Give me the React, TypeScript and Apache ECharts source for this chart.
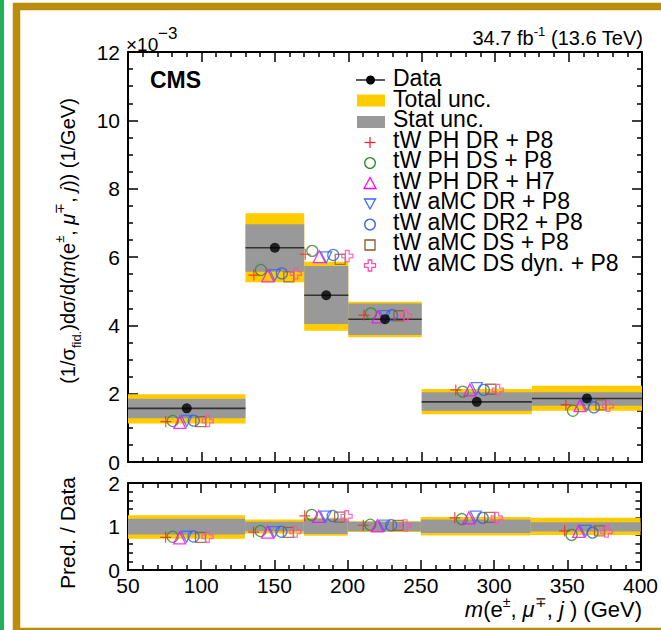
import React, { useEffect, useRef } from "react";
import * as echarts from "echarts";

// ---------------- data ----------------
const binEdges = [50, 130, 170, 200, 250, 325, 400];
const dataValues = [1.57, 6.27, 4.88, 4.18, 1.76, 1.86];
const totalLow = [1.13, 5.26, 3.84, 3.65, 1.4, 1.5];
const totalHigh = [1.98, 7.28, 5.86, 4.69, 2.14, 2.23];
const statLow = [1.28, 5.57, 4.04, 3.72, 1.5, 1.65];
const statHigh = [1.85, 6.96, 5.74, 4.64, 2.04, 2.04];

const predPhDrP8 = [1.18, 5.47, 6.08, 4.3, 2.11, 1.67];
const predPhDsP8 = [1.2, 5.62, 6.18, 4.35, 2.06, 1.5];
const predPhDrH7 = [1.16, 5.45, 6.01, 4.25, 2.11, 1.65];
const predAmcDrP8 = [1.2, 5.47, 5.99, 4.27, 2.16, 1.67];
const predAmcDr2P8 = [1.21, 5.52, 6.06, 4.3, 2.11, 1.6];
const predAmcDsP8 = [1.18, 5.42, 5.93, 4.28, 2.13, 1.67];
const predAmcDsDynP8 = [1.2, 5.52, 6.03, 4.28, 2.11, 1.64];

const mainTicks = { min: 0, max: 12, interval: 2 };
const ratioTicks = { min: 0, max: 2, interval: 1 };
const xTicks = { min: 50, max: 400, interval: 50 };

// ---------------- style ----------------
const FONT = "'Liberation Sans', Arial, Helvetica, sans-serif";
const GRID_LEFT = 128;
const GRID_WIDTH = 514;
const MAIN_TOP = 52;
const MAIN_H = 410;
const RATIO_TOP = 483;
const RATIO_H = 87;
const YELLOW = "#ffcc00";
const GREY = "#999999";
const OFFSET_GEV = (7 * (xTicks.max - xTicks.min)) / GRID_WIDTH;

const PLUS = "path://M0,5L10,5M5,0L5,10";
const DOWN_TRI = "path://M0,0L10,0L5,9Z";
const OPEN_CROSS =
  "path://M3.3,0L6.7,0L6.7,3.3L10,3.3L10,6.7L6.7,6.7L6.7,10L3.3,10L3.3,6.7L0,6.7L0,3.3L3.3,3.3Z";

const models = [
  { name: "tW PH DR + P8", values: predPhDrP8, color: "#ff1a1a", symbol: PLUS, size: 11, bw: 1.2 },
  { name: "tW PH DS + P8", values: predPhDsP8, color: "#2e8b2e", symbol: "circle", size: 11, bw: 1.3 },
  { name: "tW PH DR + H7", values: predPhDrH7, color: "#ff00ff", symbol: "triangle", size: 12, bw: 1.3 },
  { name: "tW aMC DR + P8", values: predAmcDrP8, color: "#3366ff", symbol: DOWN_TRI, size: 11, bw: 1.3 },
  { name: "tW aMC DR2 + P8", values: predAmcDr2P8, color: "#3a5fe0", symbol: "circle", size: 11, bw: 1.3 },
  { name: "tW aMC DS + P8", values: predAmcDsP8, color: "#8b5a2b", symbol: "rect", size: 10, bw: 1.3 },
  { name: "tW aMC DS dyn. + P8", values: predAmcDsDynP8, color: "#ff4fb0", symbol: OPEN_CROSS, size: 11, bw: 1.3 },
];

const binCenter = (i: number) => (binEdges[i] + binEdges[i + 1]) / 2;

function bandRender(color: string) {
  return (params: any, api: any) => {
    const p0 = api.coord([api.value(0), api.value(3)]);
    const p1 = api.coord([api.value(1), api.value(2)]);
    return {
      type: "rect",
      shape: { x: p0[0], y: p0[1], width: p1[0] - p0[0], height: p1[1] - p0[1] },
      style: { fill: color },
    };
  };
}

function lineRender(params: any, api: any) {
  const p0 = api.coord([api.value(0), api.value(2)]);
  const p1 = api.coord([api.value(1), api.value(2)]);
  return {
    type: "line",
    shape: { x1: p0[0], y1: p0[1], x2: p1[0], y2: p1[1] },
    style: { stroke: "#333333", lineWidth: 1.6 },
  };
}

function makeAxis(split: number, showLabel: boolean, position: string, extra: any) {
  return {
    type: "value",
    position,
    ...extra,
    axisLine: { show: true, onZero: false, lineStyle: { color: "#000", width: 2 } },
    axisTick: { show: true, inside: true, length: 10, lineStyle: { color: "#000", width: 1.5 } },
    minorTick: { show: true, splitNumber: split, length: 5, lineStyle: { color: "#000", width: 1.5 } },
    splitLine: { show: false },
    minorSplitLine: { show: false },
    axisLabel: {
      show: showLabel,
      color: "#000",
      fontSize: 21,
      fontFamily: FONT,
      margin: 8,
      showMinLabel: true,
      showMaxLabel: true,
    },
  };
}

function legendMarker(i: number, x: number, y: number): any {
  const m = models[i];
  const st = { fill: "none", stroke: m.color, lineWidth: 1.3 };
  switch (i) {
    case 0:
      return {
        type: "group",
        children: [
          { type: "line", shape: { x1: x - 5.5, y1: y, x2: x + 5.5, y2: y }, style: { stroke: m.color, lineWidth: 1.2 } },
          { type: "line", shape: { x1: x, y1: y - 5.5, x2: x, y2: y + 5.5 }, style: { stroke: m.color, lineWidth: 1.2 } },
        ],
      };
    case 1:
    case 4:
      return { type: "circle", shape: { cx: x, cy: y, r: 5.3 }, style: st };
    case 2:
      return { type: "polygon", shape: { points: [[x - 6, y + 5], [x + 6, y + 5], [x, y - 6]] }, style: st };
    case 3:
      return { type: "polygon", shape: { points: [[x - 5.5, y - 5], [x + 5.5, y - 5], [x, y + 5]] }, style: st };
    case 5:
      return { type: "rect", shape: { x: x - 5, y: y - 5, width: 10, height: 10 }, style: st };
    default: {
      const a = 1.8, b = 5.5;
      return {
        type: "polygon",
        shape: {
          points: [
            [x - a, y - b], [x + a, y - b], [x + a, y - a], [x + b, y - a], [x + b, y + a], [x + a, y + a],
            [x + a, y + b], [x - a, y + b], [x - a, y + a], [x - b, y + a], [x - b, y - a], [x - a, y - a],
          ],
        },
        style: st,
      };
    }
  }
}

export default function App() {
  const ref = useRef<HTMLDivElement>(null);

  useEffect(() => {
    if (!ref.current) return;
    const chart = echarts.init(ref.current, null, { renderer: "svg" });

    const nBins = dataValues.length;
    const idx = Array.from({ length: nBins }, (_, i) => i);
    const totalData = idx.map((i) => [binEdges[i], binEdges[i + 1], totalLow[i], totalHigh[i]]);
    const statData = idx.map((i) => [binEdges[i], binEdges[i + 1], statLow[i], statHigh[i]]);
    const totalRatio = idx.map((i) => [binEdges[i], binEdges[i + 1], totalLow[i] / dataValues[i], totalHigh[i] / dataValues[i]]);
    const statRatio = idx.map((i) => [binEdges[i], binEdges[i + 1], statLow[i] / dataValues[i], statHigh[i] / dataValues[i]]);
    const dataLines = idx.map((i) => [binEdges[i], binEdges[i + 1], dataValues[i]]);
    const dataPoints = idx.map((i) => [binCenter(i), dataValues[i]]);

    const series: any[] = [
      { type: "custom", name: "Total unc.", xAxisIndex: 0, yAxisIndex: 0, renderItem: bandRender(YELLOW), data: totalData, encode: { x: [0, 1], y: [2, 3] }, z: 1 },
      { type: "custom", name: "Stat unc.", xAxisIndex: 0, yAxisIndex: 0, renderItem: bandRender(GREY), data: statData, encode: { x: [0, 1], y: [2, 3] }, z: 2 },
      { type: "custom", name: "Data line", xAxisIndex: 0, yAxisIndex: 0, renderItem: lineRender, data: dataLines, encode: { x: [0, 1], y: 2 }, z: 3 },
      { type: "custom", name: "Total unc. ratio", xAxisIndex: 2, yAxisIndex: 2, renderItem: bandRender(YELLOW), data: totalRatio, encode: { x: [0, 1], y: [2, 3] }, z: 1 },
      { type: "custom", name: "Stat unc. ratio", xAxisIndex: 2, yAxisIndex: 2, renderItem: bandRender(GREY), data: statRatio, encode: { x: [0, 1], y: [2, 3] }, z: 2 },
    ];

    models.forEach((m, k) => {
      const off = (k - 3) * OFFSET_GEV;
      const style = { color: "rgba(0,0,0,0)", borderColor: m.color, borderWidth: m.bw };
      series.push({
        type: "scatter",
        name: m.name,
        xAxisIndex: 0,
        yAxisIndex: 0,
        symbol: m.symbol,
        symbolSize: m.size,
        itemStyle: style,
        data: idx.map((i) => [binCenter(i) + off, m.values[i]]),
        z: 4,
      });
      series.push({
        type: "scatter",
        name: m.name + " ratio",
        xAxisIndex: 2,
        yAxisIndex: 2,
        symbol: m.symbol,
        symbolSize: m.size,
        itemStyle: style,
        data: idx.map((i) => [binCenter(i) + off, m.values[i] / dataValues[i]]),
        z: 4,
      });
    });

    series.push({
      type: "scatter",
      name: "Data",
      xAxisIndex: 0,
      yAxisIndex: 0,
      symbol: "circle",
      symbolSize: 10,
      itemStyle: { color: "#000" },
      data: dataPoints,
      z: 6,
    });

    // legend (graphic)
    const legendX = 370;
    const legendTextX = 393;
    const rowY = (r: number) => 78 + r * 20.5;
    const legendEls: any[] = [];
    legendEls.push({ type: "line", shape: { x1: 356, y1: rowY(0) + 2, x2: 385, y2: rowY(0) + 2 }, style: { stroke: "#000", lineWidth: 1.3 } });
    legendEls.push({ type: "circle", shape: { cx: legendX + 0.5, cy: rowY(0) + 2, r: 4.5 }, style: { fill: "#000" } });
    legendEls.push({ type: "rect", shape: { x: 357, y: rowY(1) - 4, width: 28, height: 12 }, style: { fill: YELLOW } });
    legendEls.push({ type: "rect", shape: { x: 357, y: rowY(2) - 3, width: 28, height: 12 }, style: { fill: GREY } });
    const legendNames = ["Data", "Total unc.", "Stat unc.", ...models.map((m) => m.name)];
    legendNames.forEach((n, r) => {
      legendEls.push({
        type: "text",
        x: legendTextX,
        y: rowY(r),
        style: { text: n, fontSize: 23, lineHeight: 20, fontFamily: FONT, fill: "#000", align: "left", verticalAlign: "middle" },
      });
    });
    models.forEach((m, i) => legendEls.push(legendMarker(i, legendX, rowY(3 + i) + 3)));

    const graphic: any[] = [
      { type: "rect", shape: { x: 0, y: 0, width: 4, height: 630 }, style: { fill: "#1fb155" }, z: 0 },
      { type: "rect", shape: { x: 16.5, y: 6.5, width: 700, height: 625 }, style: { fill: "none", stroke: "#bb8d0a", lineWidth: 7.5 }, z: 0 },
      { type: "text", x: 126, y: 44, style: { text: "×10", fontSize: 19, fontFamily: FONT, fill: "#000", align: "left", verticalAlign: "middle" } },
      { type: "text", x: 158, y: 33, style: { text: "−3", fontSize: 17, fontFamily: FONT, fill: "#000", align: "left", verticalAlign: "middle" } },
      {
        type: "text",
        x: 643,
        y: 38,
        style: {
          text: "34.7 fb{sup|-1} (13.6 TeV)",
          fontSize: 20,
          fontFamily: FONT,
          fill: "#000",
          align: "right",
          verticalAlign: "middle",
          rich: { sup: { fontSize: 13, fontFamily: FONT, verticalAlign: "top", lineHeight: 13 } },
          lineHeight: 26,
        },
      },
      { type: "text", x: 150, y: 80, style: { text: "CMS", fontSize: 23, fontWeight: "bold", fontFamily: FONT, fill: "#000", align: "left", verticalAlign: "middle" } },
      {
        type: "text",
        x: 68,
        y: 241,
        rotation: Math.PI / 2,
        style: {
          text: "(1/σ{sub|fid.})dσ/d({it|m}(e{sup|±}, {it|μ}{sup|∓}, {it|j})) (1/GeV)",
          fontSize: 20,
          fontFamily: FONT,
          fill: "#000",
          align: "center",
          verticalAlign: "middle",
          lineHeight: 30,
          rich: {
            sub: { fontSize: 13, fontFamily: FONT, verticalAlign: "bottom", lineHeight: 14 },
            sup: { fontSize: 13, fontFamily: FONT, verticalAlign: "top", lineHeight: 14 },
            it: { fontSize: 20, fontFamily: FONT, fontStyle: "italic" },
          },
        },
      },
      {
        type: "text",
        x: 67,
        y: 533,
        rotation: Math.PI / 2,
        style: { text: "Pred. / Data", fontSize: 21, fontFamily: FONT, fill: "#000", align: "center", verticalAlign: "middle" },
      },
      {
        type: "text",
        x: 642,
        y: 609,
        style: {
          text: "{it|m}(e{sup|±}, {it|μ}{sup|∓}, {it|j} ) (GeV)",
          fontSize: 22,
          fontFamily: FONT,
          fill: "#000",
          align: "right",
          verticalAlign: "middle",
          lineHeight: 28,
          rich: {
            sup: { fontSize: 14, fontFamily: FONT, verticalAlign: "top", lineHeight: 14 },
            it: { fontSize: 22, fontFamily: FONT, fontStyle: "italic" },
          },
        },
      },
      ...legendEls,
    ];

    const option: any = {
      animation: false,
      backgroundColor: "#ffffff",
      grid: [
        { left: GRID_LEFT, top: MAIN_TOP, width: GRID_WIDTH, height: MAIN_H },
        { left: GRID_LEFT, top: RATIO_TOP, width: GRID_WIDTH, height: RATIO_H },
      ],
      xAxis: [
        makeAxis(5, false, "bottom", { gridIndex: 0, ...xTicks }),
        makeAxis(5, false, "top", { gridIndex: 0, ...xTicks }),
        makeAxis(5, true, "bottom", { gridIndex: 1, ...xTicks }),
        makeAxis(5, false, "top", { gridIndex: 1, ...xTicks }),
      ],
      yAxis: [
        makeAxis(4, true, "left", { gridIndex: 0, ...mainTicks }),
        makeAxis(4, false, "right", { gridIndex: 0, ...mainTicks }),
        makeAxis(5, true, "left", { gridIndex: 1, ...ratioTicks }),
        makeAxis(5, false, "right", { gridIndex: 1, ...ratioTicks }),
      ],
      series,
      graphic,
    };
    option.xAxis[2].axisLabel.margin = 5;
    chart.setOption(option);
    return () => chart.dispose();
  }, []);

  return (
    <div
      ref={ref}
      style={{ position: "fixed", left: 0, top: 0, width: 661, height: 630, background: "#fff" }}
    />
  );
}
